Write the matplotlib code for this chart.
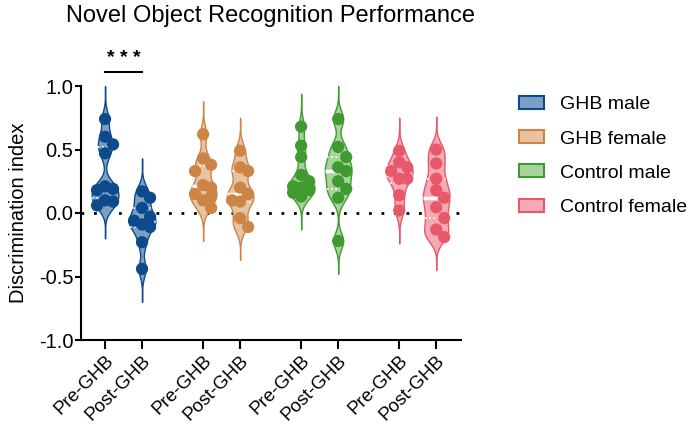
import numpy as np
import matplotlib.pyplot as plt
from matplotlib.patches import Patch

plt.rcParams['font.family'] = ['Liberation Sans', 'DejaVu Sans']

# data
groups = ['GHB male', 'GHB female', 'Control male', 'Control female']
ticklabels = ['Pre-GHB', 'Post-GHB'] * 4
edge_cols = ['#0d4a8c', '#cc8447', '#3f9a30', '#e8586b']
fill_cols = ['#7d9fc6', '#e8c3a1', '#a8d39d', '#f5aab4']

ghb_male_pre = [0.74, 0.60, 0.54, 0.47, 0.21, 0.19, 0.18, 0.10, 0.09, 0.06]
ghb_male_post = [0.17, 0.12, 0.04, -0.03, -0.06, -0.09, -0.11, -0.23, -0.44]
ghb_female_pre = [0.62, 0.43, 0.38, 0.33, 0.22, 0.20, 0.15, 0.13, 0.10, 0.04]
ghb_female_post = [0.49, 0.36, 0.33, 0.20, 0.15, 0.10, 0.09, -0.04, -0.11]
ctrl_male_pre = [0.68, 0.53, 0.44, 0.30, 0.25, 0.21, 0.20, 0.18, 0.16, 0.13]
ctrl_male_post = [0.74, 0.52, 0.44, 0.36, 0.33, 0.25, 0.19, 0.12, -0.22]
ctrl_female_pre = [0.49, 0.40, 0.36, 0.33, 0.27, 0.27, 0.14, 0.02]
ctrl_female_post = [0.50, 0.39, 0.27, 0.18, 0.12, 0.045, -0.04, -0.13, -0.19]

series = [ghb_male_pre, ghb_male_post, ghb_female_pre, ghb_female_post,
          ctrl_male_pre, ctrl_male_post, ctrl_female_pre, ctrl_female_post]
pos = [0, 1, 2.65, 3.65, 5.3, 6.3, 7.95, 8.95]

fig = plt.figure(figsize=(6.96, 4.29), dpi=100)
ax = fig.add_axes([81/696, 1-340/429, 380/696, 254/429])
ax.set_xlim(-0.65, 9.62)
ax.set_ylim(-1.0, 1.0)

px_x = 37.0   # px per x unit
px_y = 127.0  # px per y unit
bw = 0.065
half = 0.36


def kde(v, grid):
    v = np.asarray(v)
    d = (grid[:, None] - v[None, :]) / bw
    return np.exp(-0.5 * d**2).sum(axis=1)


def swarm(v, d=11.0, step=8.0):
    # narrow beeswarm: center, right or left, whichever overlaps least
    v = np.asarray(v)
    offs = np.zeros(len(v))
    placed = []
    for i in np.argsort(v)[::-1]:
        y = v[i] * px_y
        best, best_gap = 0.0, -1
        for x in [0.0, step, -step]:
            gap = min([np.hypot(x - px, y - py) for px, py in placed] + [1e9])
            if gap >= d:
                best = x
                break
            if gap > best_gap:
                best, best_gap = x, gap
        placed.append((best, y))
        offs[i] = best / px_x
    return offs


for i, (p, v) in enumerate(zip(pos, series)):
    ec = edge_cols[i // 2]
    fc = fill_cols[i // 2]
    grid = np.linspace(min(v) - 4 * bw, max(v) + 4 * bw, 400)
    dens = kde(v, grid)
    w = dens / dens.max() * half
    ax.fill_betweenx(grid, p - w, p + w, facecolor=fc, edgecolor=ec, lw=1.0, zorder=2)
    q1, med, q3 = np.percentile(v, [25, 50, 75])
    for q, ls, lw in [(q1, (0, (1, 1.5)), 1.2), (q3, (0, (1, 1.5)), 1.2), (med, (0, (4, 2.5)), 2.5)]:
        hw = np.interp(q, grid, w)
        ax.plot([p - hw, p + hw], [q, q], color='white', ls=ls, lw=lw, zorder=3)
    ax.scatter(p + swarm(v), v, s=78, color=ec, edgecolor='none', zorder=4)

ax.axhline(0, color='black', ls=(0, (1, 3.5)), lw=2, zorder=1)

for s in ['top', 'right']:
    ax.spines[s].set_visible(False)
for s in ['left', 'bottom']:
    ax.spines[s].set_linewidth(1.5)
ax.set_yticks([-1.0, -0.5, 0.0, 0.5, 1.0])
ax.set_yticklabels(['-1.0', '-0.5', '0.0', '0.5', '1.0'])
ax.set_xticks(pos)
ax.set_xticklabels(ticklabels, rotation=45, ha='right', rotation_mode='anchor')
ax.tick_params(axis='both', width=1.5, colors='black')
ax.tick_params(axis='y', length=4.5, pad=1, labelsize=14.5)
ax.tick_params(axis='x', length=6.5, pad=2, labelsize=13.5)
ax.set_ylabel('Discrimination index', fontsize=14.5, labelpad=8)

# significance bar
ax.plot([pos[0], pos[1]], [1.11, 1.11], color='black', lw=1.5, clip_on=False)
ax.text((pos[0] + pos[1]) / 2, 1.15, '* * *', ha='center', va='bottom',
        fontsize=14, fontweight='bold', clip_on=False)

fig.text(270/696, 1-16/429, 'Novel Object Recognition Performance', ha='center',
         va='center', fontsize=17)

handles = [Patch(facecolor=fc, edgecolor=ec, lw=1.5) for fc, ec in zip(fill_cols, edge_cols)]
fig.legend(handles, groups, loc='upper left', bbox_to_anchor=(519/696, 1-96/429),
           frameon=False, fontsize=14, borderpad=0, borderaxespad=0, handlelength=1.3,
           handleheight=0.65, labelspacing=0.87, handletextpad=0.8)

fig.savefig('out.png', dpi=100)
